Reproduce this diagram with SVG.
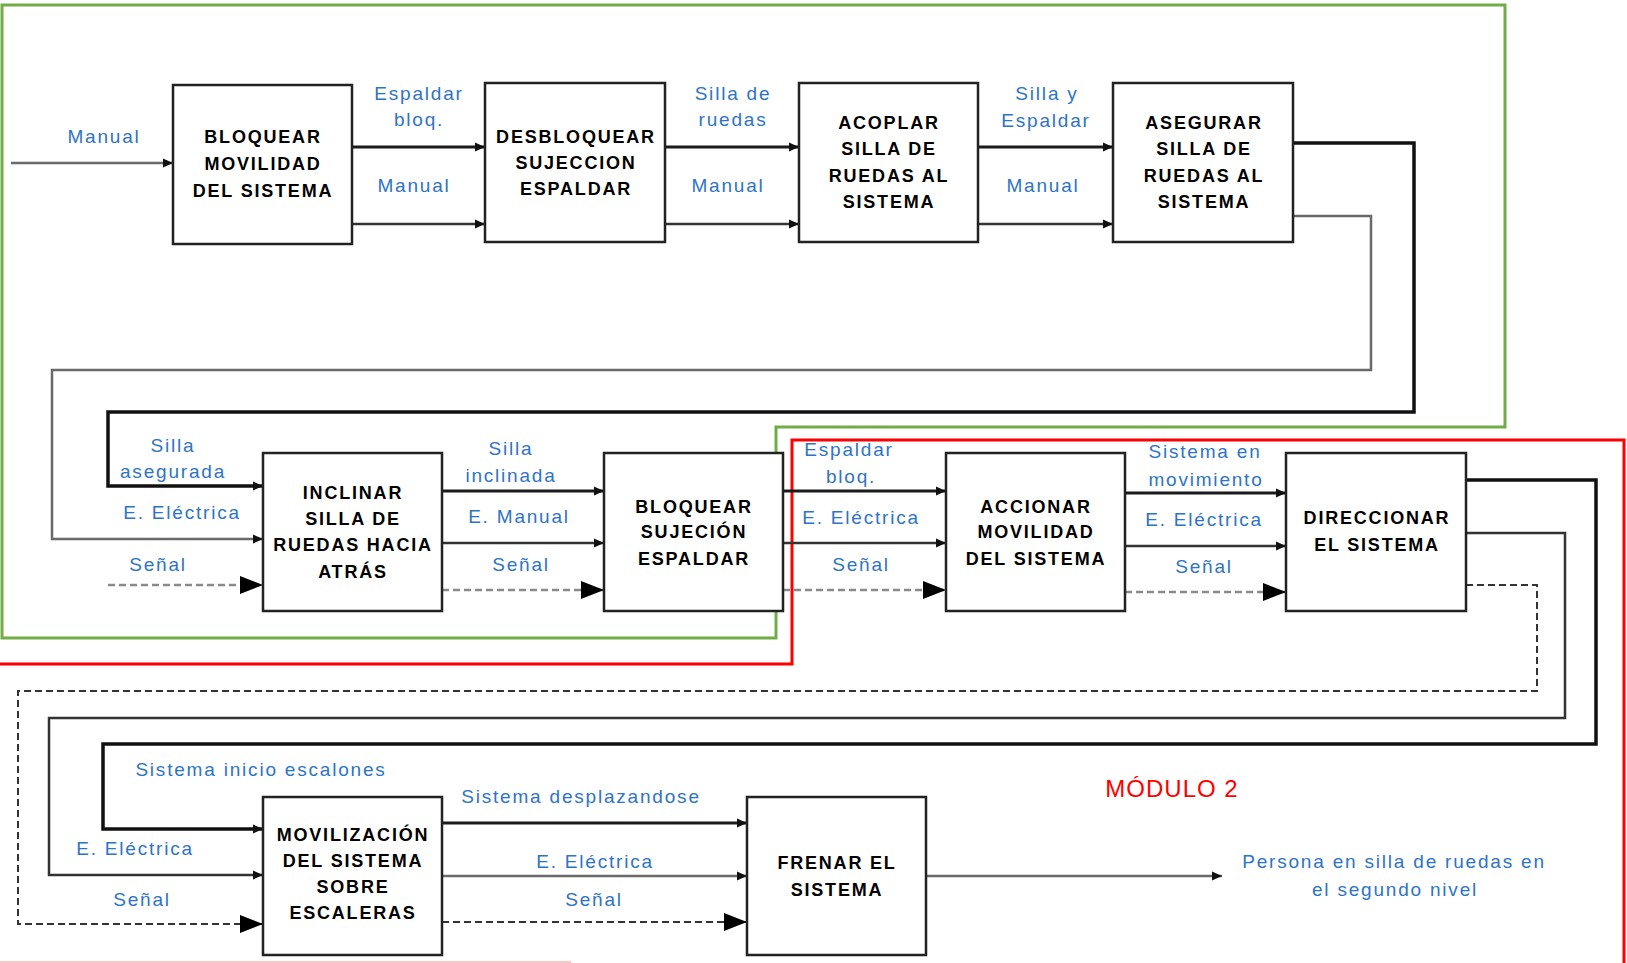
<svg xmlns="http://www.w3.org/2000/svg" width="1627" height="963" viewBox="0 0 1627 963">
<style>
.box{fill:#fff;stroke:#222;stroke-width:2.5}
.bt{font-family:"Liberation Sans",Arial,sans-serif;font-weight:bold;font-size:18px;letter-spacing:1.8px;fill:#000;text-anchor:middle}
.lbl{font-family:"Liberation Sans",Arial,sans-serif;font-size:19px;letter-spacing:1.8px;fill:#2E74C5;text-anchor:middle}
.mod{font-family:"Liberation Sans",Arial,sans-serif;font-size:24px;letter-spacing:1px;fill:#FF0000;text-anchor:middle}
.dk{fill:none;stroke:#1a1a1a;stroke-width:3}
.md{fill:none;stroke:#333;stroke-width:2.5}
.gr{fill:none;stroke:#6a6a6a;stroke-width:2.5}
.bk{fill:none;stroke:#111;stroke-width:3.5}
.ds{fill:none;stroke:#8a8a8a;stroke-width:2.5;stroke-dasharray:7 4}
.dl{fill:none;stroke:#333;stroke-width:2;stroke-dasharray:7 4}
</style>
<defs>
<marker id="a" markerUnits="userSpaceOnUse" markerWidth="10" markerHeight="10" refX="10" refY="5" orient="auto"><path d="M0,0.5 L10,5 L0,9.5 z" fill="#111"/></marker>
<marker id="b" markerUnits="userSpaceOnUse" markerWidth="23" markerHeight="18" refX="23" refY="9" orient="auto"><path d="M0,0 L23,9 L0,18 z" fill="#000"/></marker>
</defs>
<rect width="1627" height="963" fill="#fff"/>
<g id="frames">
<path d="M2,5 H1505 V427 H776 V638 H2 Z" fill="none" stroke="#70AD47" stroke-width="3"/>
<path d="M0,664 H792 V440 H1624 V963" fill="none" stroke="#FF0000" stroke-width="3"/>
<line x1="0" y1="962" x2="571" y2="962" stroke="#F7B4B4" stroke-width="1.5"/>
</g>
<g id="connectors">
<line class="gr" x1="11" y1="163" x2="173" y2="163" marker-end="url(#a)"/>
<line class="dk" x1="352" y1="147" x2="485" y2="147" marker-end="url(#a)"/>
<line class="md" x1="352" y1="224" x2="485" y2="224" marker-end="url(#a)"/>
<line class="dk" x1="665" y1="147" x2="799" y2="147" marker-end="url(#a)"/>
<line class="md" x1="665" y1="224" x2="799" y2="224" marker-end="url(#a)"/>
<line class="dk" x1="978" y1="147" x2="1113" y2="147" marker-end="url(#a)"/>
<line class="md" x1="978" y1="224" x2="1113" y2="224" marker-end="url(#a)"/>
<path class="bk" d="M1293,143 H1414 V412 H108 V486 H263" marker-end="url(#a)"/>
<path class="gr" d="M1293,216 H1371 V370 H52 V539 H263" marker-end="url(#a)"/>
<line class="ds" x1="108" y1="585" x2="263" y2="585" marker-end="url(#b)"/>
<line class="dk" x1="442" y1="491" x2="604" y2="491" marker-end="url(#a)"/>
<line class="md" x1="442" y1="543" x2="604" y2="543" marker-end="url(#a)"/>
<line class="ds" x1="442" y1="590" x2="604" y2="590" marker-end="url(#b)"/>
<line class="dk" x1="783" y1="491" x2="946" y2="491" marker-end="url(#a)"/>
<line class="md" x1="783" y1="543" x2="946" y2="543" marker-end="url(#a)"/>
<line class="ds" x1="783" y1="590" x2="946" y2="590" marker-end="url(#b)"/>
<line class="dk" x1="1125" y1="493" x2="1286" y2="493" marker-end="url(#a)"/>
<line class="md" x1="1125" y1="546" x2="1286" y2="546" marker-end="url(#a)"/>
<line class="ds" x1="1125" y1="592" x2="1286" y2="592" marker-end="url(#b)"/>
<path class="bk" d="M1466,480 H1596 V744 H103 V829 H263" marker-end="url(#a)"/>
<path class="md" d="M1466,533 H1565 V718 H49 V875 H263" marker-end="url(#a)"/>
<path class="dl" d="M1466,585 H1537 V691 H18 V924 H263" marker-end="url(#b)"/>
<line class="dk" x1="442" y1="823" x2="747" y2="823" marker-end="url(#a)"/>
<line class="gr" x1="442" y1="876" x2="747" y2="876" marker-end="url(#a)"/>
<line class="dl" x1="442" y1="922" x2="747" y2="922" marker-end="url(#b)"/>
<line class="gr" x1="926" y1="876" x2="1222" y2="876" marker-end="url(#a)"/>
</g>
<g id="labels">
<text class="lbl" x="104" y="143">Manual</text>
<text class="lbl" x="419" y="100">Espaldar</text>
<text class="lbl" x="419" y="126">bloq.</text>
<text class="lbl" x="414" y="192">Manual</text>
<text class="lbl" x="733" y="100">Silla de</text>
<text class="lbl" x="733" y="126">ruedas</text>
<text class="lbl" x="728" y="192">Manual</text>
<text class="lbl" x="1047" y="100">Silla y</text>
<text class="lbl" x="1046" y="127">Espaldar</text>
<text class="lbl" x="1043" y="192">Manual</text>
<text class="lbl" x="173" y="452">Silla</text>
<text class="lbl" x="173" y="478">asegurada</text>
<text class="lbl" x="182" y="519">E. Eléctrica</text>
<text class="lbl" x="158" y="571">Señal</text>
<text class="lbl" x="511" y="455">Silla</text>
<text class="lbl" x="511" y="482">inclinada</text>
<text class="lbl" x="519" y="523">E. Manual</text>
<text class="lbl" x="521" y="571">Señal</text>
<text class="lbl" x="849" y="456">Espaldar</text>
<text class="lbl" x="851" y="483">bloq.</text>
<text class="lbl" x="861" y="524">E. Eléctrica</text>
<text class="lbl" x="861" y="571">Señal</text>
<text class="lbl" x="1205" y="458">Sistema en</text>
<text class="lbl" x="1206" y="486">movimiento</text>
<text class="lbl" x="1204" y="526">E. Eléctrica</text>
<text class="lbl" x="1204" y="573">Señal</text>
<text class="lbl" x="261" y="776">Sistema inicio escalones</text>
<text class="lbl" x="581" y="803">Sistema desplazandose</text>
<text class="lbl" x="135" y="855">E. Eléctrica</text>
<text class="lbl" x="142" y="906">Señal</text>
<text class="lbl" x="595" y="868">E. Eléctrica</text>
<text class="lbl" x="594" y="906">Señal</text>
<text class="lbl" x="1394" y="868">Persona en silla de ruedas en</text>
<text class="lbl" x="1395" y="896">el segundo nivel</text>
<text class="mod" x="1172" y="797">MÓDULO 2</text>
</g>
<g id="n1"><rect class="box" x="173" y="85" width="179" height="159"/>
<text class="bt" x="263" y="143">BLOQUEAR</text><text class="bt" x="263" y="170">MOVILIDAD</text><text class="bt" x="263" y="197">DEL SISTEMA</text></g>
<g id="n2"><rect class="box" x="485" y="83" width="180" height="159"/>
<text class="bt" x="576" y="143">DESBLOQUEAR</text><text class="bt" x="576" y="169">SUJECCION</text><text class="bt" x="576" y="195">ESPALDAR</text></g>
<g id="n3"><rect class="box" x="799" y="83" width="179" height="159"/>
<text class="bt" x="889" y="129">ACOPLAR</text><text class="bt" x="889" y="155">SILLA DE</text><text class="bt" x="889" y="182">RUEDAS AL</text><text class="bt" x="889" y="208">SISTEMA</text></g>
<g id="n4"><rect class="box" x="1113" y="83" width="180" height="159"/>
<text class="bt" x="1204" y="129">ASEGURAR</text><text class="bt" x="1204" y="155">SILLA DE</text><text class="bt" x="1204" y="182">RUEDAS AL</text><text class="bt" x="1204" y="208">SISTEMA</text></g>
<g id="n5"><rect class="box" x="263" y="453" width="179" height="158"/>
<text class="bt" x="353" y="499">INCLINAR</text><text class="bt" x="353" y="525">SILLA DE</text><text class="bt" x="353" y="551">RUEDAS HACIA</text><text class="bt" x="353" y="578">ATRÁS</text></g>
<g id="n6"><rect class="box" x="604" y="453" width="179" height="158"/>
<text class="bt" x="694" y="513">BLOQUEAR</text><text class="bt" x="694" y="538">SUJECIÓN</text><text class="bt" x="694" y="565">ESPALDAR</text></g>
<g id="n7"><rect class="box" x="946" y="453" width="179" height="158"/>
<text class="bt" x="1036" y="513">ACCIONAR</text><text class="bt" x="1036" y="538">MOVILIDAD</text><text class="bt" x="1036" y="565">DEL SISTEMA</text></g>
<g id="n8"><rect class="box" x="1286" y="453" width="180" height="158"/>
<text class="bt" x="1377" y="524">DIRECCIONAR</text><text class="bt" x="1377" y="551">EL SISTEMA</text></g>
<g id="n9"><rect class="box" x="263" y="797" width="179" height="158"/>
<text class="bt" x="353" y="841">MOVILIZACIÓN</text><text class="bt" x="353" y="867">DEL SISTEMA</text><text class="bt" x="353" y="893">SOBRE</text><text class="bt" x="353" y="919">ESCALERAS</text></g>
<g id="n10"><rect class="box" x="747" y="797" width="179" height="158"/>
<text class="bt" x="837" y="869">FRENAR EL</text><text class="bt" x="837" y="896">SISTEMA</text></g>
</svg>
